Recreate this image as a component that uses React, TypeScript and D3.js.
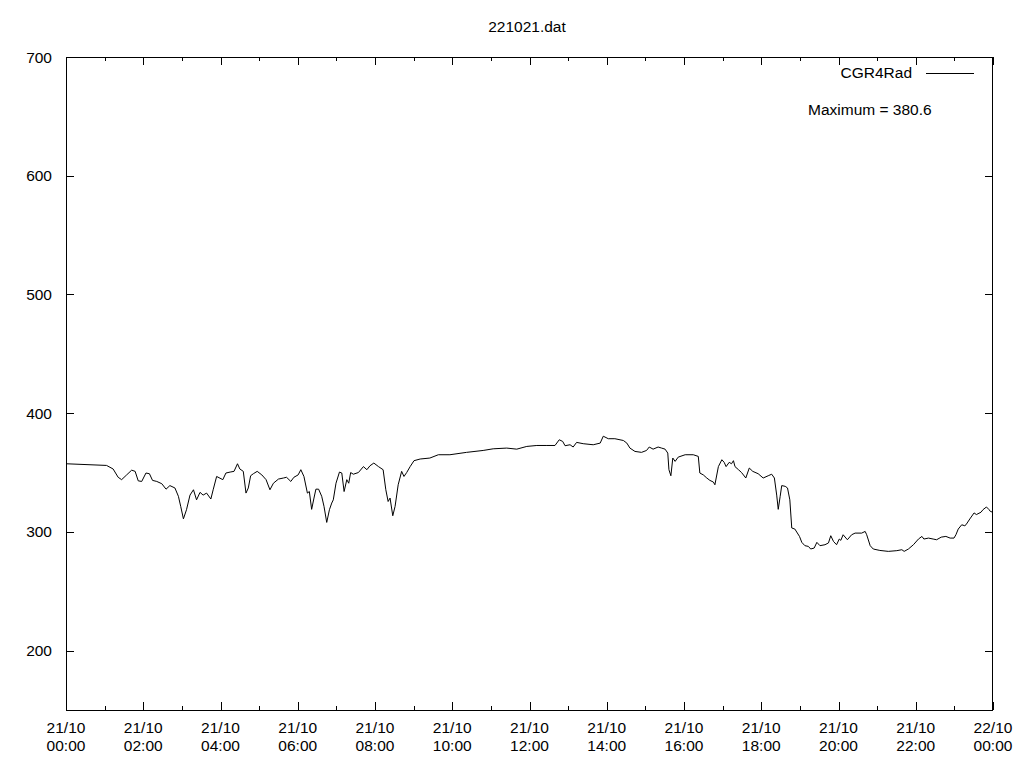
import React from "react";
import * as d3 from "d3";

const title = "221021.dat";
const seriesName = "CGR4Rad";
const maxLabel = "Maximum = 380.6";

const yTicks = [200, 300, 400, 500, 600, 700];
const xMajorHours = [0, 2, 4, 6, 8, 10, 12, 14, 16, 18, 20, 22, 24];
const xDateLabels = ["21/10", "21/10", "21/10", "21/10", "21/10", "21/10", "21/10", "21/10", "21/10", "21/10", "21/10", "21/10", "22/10"];
const xTimeLabels = ["00:00", "02:00", "04:00", "06:00", "08:00", "10:00", "12:00", "14:00", "16:00", "18:00", "20:00", "22:00", "00:00"];

const hours = [
  0, 1.05, 1.22, 1.35, 1.44, 1.57, 1.70, 1.79, 1.87, 1.96, 2.07, 2.16, 2.24, 2.35, 2.48, 2.59, 2.69, 2.82, 2.91, 2.97,
  3.04, 3.12, 3.21, 3.30, 3.38, 3.47, 3.55, 3.64, 3.75, 3.81, 3.90, 4.06, 4.14, 4.25, 4.35, 4.44, 4.50, 4.59, 4.66, 4.72,
  4.78, 4.85, 4.95, 5.07, 5.18, 5.28, 5.37, 5.50, 5.63, 5.71, 5.82, 5.90, 6.01, 6.08, 6.16, 6.25, 6.30, 6.36, 6.42, 6.47,
  6.54, 6.62, 6.68, 6.75, 6.82, 6.88, 6.92, 6.99, 7.08, 7.14, 7.20, 7.27, 7.32, 7.37, 7.44, 7.57, 7.70, 7.79, 7.87, 7.97,
  8.09, 8.21, 8.28, 8.34, 8.39, 8.46, 8.52, 8.60, 8.69, 8.75, 8.82, 8.91, 9.01, 9.17, 9.42, 9.64, 9.94, 10.37, 10.80, 11.06,
  11.41, 11.67, 11.93, 12.19, 12.45, 12.66, 12.77, 12.86, 12.92, 13.05, 13.13, 13.22, 13.39, 13.65, 13.83, 13.91, 14.04, 14.21, 14.43, 14.52,
  14.60, 14.73, 14.90, 15.03, 15.10, 15.20, 15.33, 15.42, 15.51, 15.58, 15.61, 15.66, 15.71, 15.77, 15.85, 16.03, 16.24, 16.37, 16.41, 16.50,
  16.59, 16.67, 16.76, 16.80, 16.89, 16.98, 17.04, 17.09, 17.17, 17.23, 17.28, 17.32, 17.41, 17.49, 17.60, 17.69, 17.78, 17.92, 18.05, 18.18,
  18.27, 18.34, 18.40, 18.44, 18.49, 18.53, 18.62, 18.68, 18.74, 18.79, 18.87, 18.99, 19.05, 19.13, 19.22, 19.28, 19.37, 19.44, 19.52, 19.65,
  19.74, 19.80, 19.87, 19.95, 20.02, 20.06, 20.12, 20.23, 20.34, 20.43, 20.60, 20.69, 20.73, 20.82, 20.90, 21.07, 21.29, 21.51, 21.64, 21.70,
  21.81, 21.94, 22.07, 22.16, 22.21, 22.33, 22.45, 22.54, 22.66, 22.78, 22.89, 22.99, 23.04, 23.10, 23.19, 23.27, 23.30, 23.40, 23.51, 23.57,
  23.69, 23.74, 23.83, 23.90, 23.93, 23.99,
];

const values = [
  357.4, 356, 353, 346, 344, 348, 352, 351, 343, 342.5, 349.6, 349, 343.4, 342.5, 340.6, 336, 339, 337, 330, 321.5,
  311, 318.7, 331, 335.5, 327, 333.3, 331, 332.7, 327.7, 335.5, 346.7, 344, 349.6, 350.4, 351, 357.4, 353, 351, 332.7, 337,
  347.3, 349, 351, 348, 344, 335.5, 341, 344.5, 345.4, 346, 342.5, 346, 348, 352.4, 346.7, 332.7, 334, 319, 328.5, 336,
  336, 330, 321.5, 308, 318.7, 324.3, 327, 341, 350.4, 349.6, 334, 344, 341, 350, 348.6, 350, 355, 352.4, 355.7, 358,
  355, 352.4, 335.5, 325.6, 328.5, 313.6, 321.5, 339.7, 351, 346.7, 350, 355, 360, 361.4, 362.2, 365, 365, 367, 368.6, 370,
  370.6, 369.7, 372, 372.8, 372.8, 372.8, 377.6, 376.2, 372.6, 373.4, 371.5, 375.4, 374.3, 373.4, 374.8, 380.6, 378.5, 378.5, 377, 374.8,
  370.6, 367.8, 367, 368.6, 371.5, 369.7, 371.5, 370.6, 369.7, 366.4, 352.4, 347.3, 362.2, 359.4, 363, 365, 365, 363.6, 349.6, 348,
  345.4, 343.4, 342, 339.7, 355, 360.8, 358.6, 355, 358.6, 357.4, 360, 355, 352.4, 350, 345.4, 353.8, 351, 349, 345.4, 347.3,
  348.6, 345.4, 331, 319, 330, 339, 338.4, 337, 327, 303.3, 302.4, 296.2, 291.2, 288.4, 287.8, 285.6, 286.4, 291.2, 288.4, 289.2,
  290.7, 296.8, 292, 289.2, 294, 292.9, 297.6, 293.4, 297.6, 299, 299, 300.4, 297.6, 288.4, 285.6, 284.4, 283.6, 284.2, 285, 283.6,
  285.6, 289.2, 294, 296.2, 294, 294.8, 294, 293.4, 295.6, 296.2, 294.8, 294.8, 297.6, 302.4, 306, 305.2, 306, 310.9, 316, 314.6,
  316.6, 318.7, 321, 318.7, 317.3, 316.6,
];

const W = 1024;
const H = 768;
const left = 66;
const right = 993;
const top = 57;
const bottom = 710;
const FONT = "'Liberation Sans', Arial, sans-serif";
const FS = 15.5;

export default function App() {
  const x = d3.scaleLinear().domain([0, 24]).range([left, right]);
  const y = d3.scaleLinear().domain([150, 700]).range([bottom, top]);
  const data = hours.map((h, i) => [h, values[i]] as [number, number]);
  const line = d3
    .line<[number, number]>()
    .x((d) => x(d[0]))
    .y((d) => y(d[1]));
  const allHours = d3.range(0, 25);

  return (
    <svg
      width={W}
      height={H}
      style={{ position: "absolute", left: 0, top: 0, background: "#fff" }}
      fontFamily={FONT}
      fontSize={FS}
    >
      <rect x={0} y={0} width={W} height={H} fill="#fff" />
      <text x={527} y={32} textAnchor="middle" fill="#000">
        {title}
      </text>

      {/* y ticks both sides */}
      {yTicks.map((t) => (
        <g key={"y" + t}>
          <line x1={left} x2={left + 8} y1={Math.round(y(t)) + 0.5} y2={Math.round(y(t)) + 0.5} stroke="#000" />
          <line x1={right - 8} x2={right} y1={Math.round(y(t)) + 0.5} y2={Math.round(y(t)) + 0.5} stroke="#000" />
          <text x={52} y={y(t) + 5.5} textAnchor="end" fill="#000">
            {t}
          </text>
        </g>
      ))}

      {/* x ticks bottom and top */}
      {allHours.map((h) => {
        const len = h % 2 === 0 ? 8 : 4;
        const px = Math.round(x(h)) + 0.5;
        return (
          <g key={"x" + h}>
            <line x1={px} x2={px} y1={bottom} y2={bottom - len} stroke="#000" />
            <line x1={px} x2={px} y1={top} y2={top + len} stroke="#000" />
          </g>
        );
      })}
      {xMajorHours.map((h, i) => (
        <g key={"xl" + h}>
          <text x={x(h)} y={733} textAnchor="middle" fill="#000">
            {xDateLabels[i]}
          </text>
          <text x={x(h)} y={751} textAnchor="middle" fill="#000">
            {xTimeLabels[i]}
          </text>
        </g>
      ))}

      <path d={line(data) || ""} fill="none" stroke="#000" strokeWidth={1} strokeLinejoin="round" />

      {/* frame */}
      <rect x={left + 0.5} y={top + 0.5} width={right - left - 1} height={bottom - top} fill="none" stroke="#000" />

      {/* legend */}
      <text x={912} y={78} textAnchor="end" fill="#000">
        {seriesName}
      </text>
      <line x1={926} x2={974} y1={73.5} y2={73.5} stroke="#000" />
      <text x={808} y={114.5} fill="#000">
        {maxLabel}
      </text>
    </svg>
  );
}
